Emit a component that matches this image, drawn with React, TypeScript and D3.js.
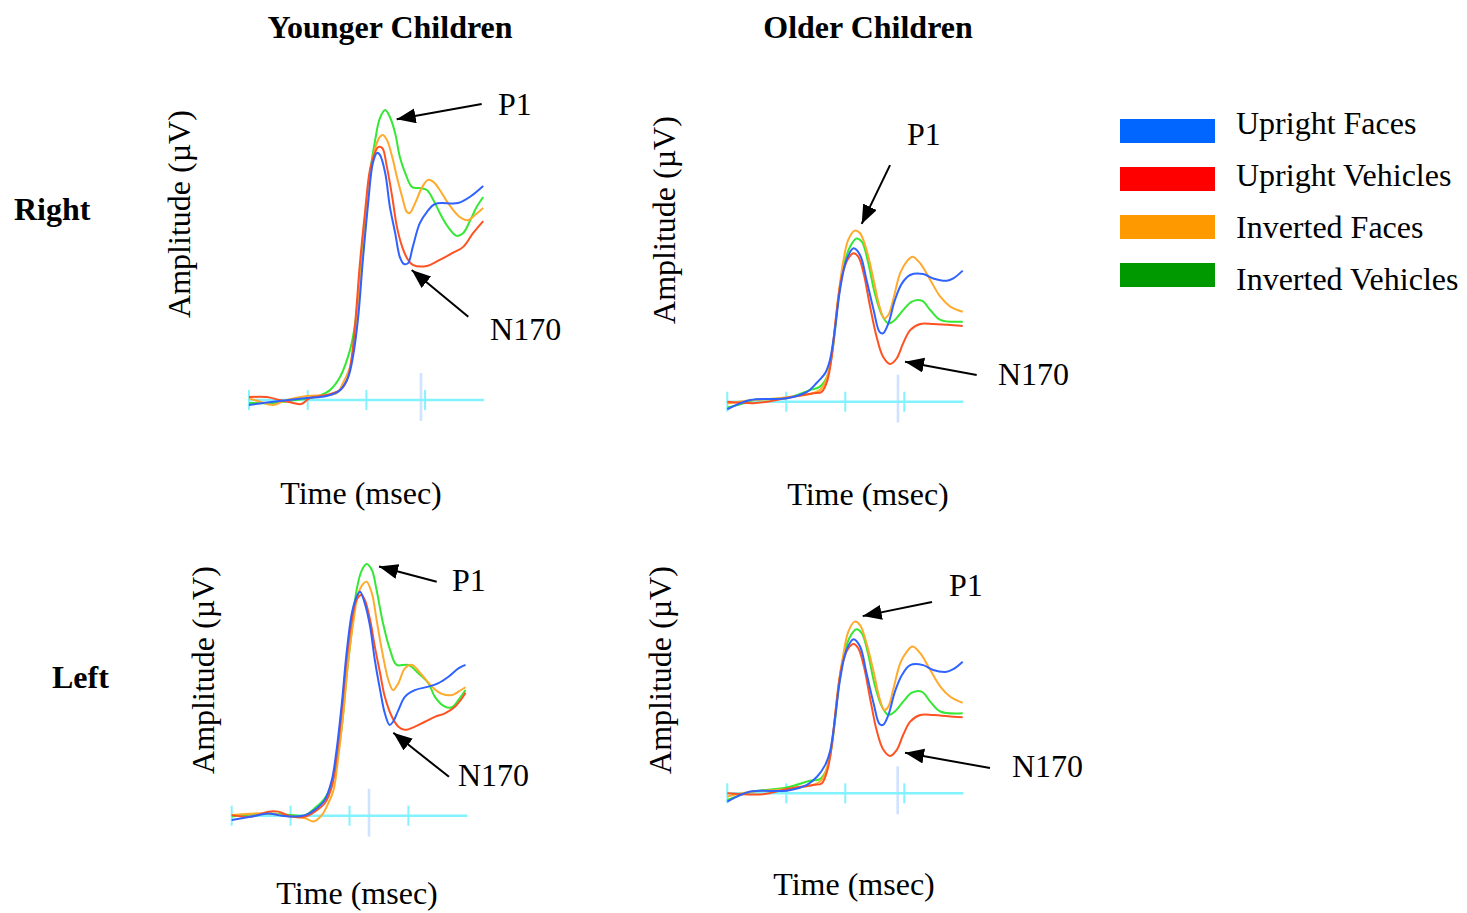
import React from "react";
import * as d3 from "d3";

type Pt = [number, number];

// condition order: upright faces, upright vehicles, inverted faces, inverted vehicles
const conditions = ["Upright Faces", "Upright Vehicles", "Inverted Faces", "Inverted Vehicles"];
const legendColors = ["#0066ff", "#ff0000", "#ff9900", "#009900"];
const traceColors = ["#2f62ff", "#ff5222", "#ffaa2c", "#34e834"];
const drawOrder = [3, 2, 1, 0];
const timeTicks = [-100, 0, 100, 200];

// [time (ms), amplitude (µV)]
const youngerRightUF: Pt[] = [
  [-100, -0.17], [-59, -0.06], [-2, 0.07], [32, 0.14], [55, 0.34], [69, 0.79], [77, 1.48],
  [86, 2.86], [94, 4.83], [103, 6.79], [111, 8.17], [118, 8.52], [123, 8.45], [132, 7.83],
  [140, 6.66], [149, 5.76], [157, 4.93], [164, 4.69], [171, 4.72], [179, 5.28], [191, 6.1],
  [203, 6.48], [217, 6.76], [256, 6.79], [276, 7.0], [299, 7.38],
];
const youngerRightUV: Pt[] = [
  [-100, 0.1], [-70, 0.1], [-48, 0], [-25, -0.1], [-11, -0.14], [4, 0.07], [32, 0.17],
  [55, 0.34], [67, 0.69], [75, 1.48], [81, 2.66], [89, 4.72], [98, 6.55], [106, 7.93],
  [115, 8.55], [120, 8.72], [127, 8.69], [135, 8.03], [144, 7.0], [152, 5.97], [161, 5.28],
  [169, 4.9], [179, 4.66], [203, 4.62], [225, 4.83], [247, 5.07], [265, 5.28], [282, 5.76],
  [299, 6.17],
];
const youngerRightIF: Pt[] = [
  [-100, 0.06], [-81, -0.06], [-59, -0.17], [-36, 0], [-2, 0.14], [32, 0.17], [50, 0.24],
  [60, 0.58], [72, 1.14], [81, 2.17], [89, 4.03], [98, 5.86], [106, 7.69], [115, 8.69],
  [123, 9.07], [128, 9.14], [135, 8.97], [144, 8.38], [152, 7.69], [161, 7.0], [169, 6.48],
  [174, 6.45], [183, 6.79], [195, 7.34], [205, 7.59], [214, 7.52], [225, 7.24], [239, 6.79],
  [259, 6.31], [273, 6.2], [285, 6.38], [299, 6.62],
];
const youngerRightIV: Pt[] = [
  [-100, -0.1], [-60, -0.1], [-20, 0], [0, 0.05], [20, 0.15], [38, 0.34], [55, 0.79],
  [72, 1.72], [81, 2.66], [89, 4.24], [98, 6.31], [106, 7.83], [115, 8.97], [123, 9.72],
  [132, 10.0], [140, 9.76], [149, 9.2], [157, 8.38], [166, 7.83], [178, 7.34], [191, 7.31],
  [203, 7.24], [214, 6.9], [225, 6.45], [239, 5.97], [254, 5.66], [265, 5.76], [277, 6.2],
  [288, 6.66], [299, 7.0],
];

const olderRightUF: Pt[] = [
  [-100, -0.26], [-61, 0.06], [1, 0.12], [35, 0.34], [52, 0.66], [66, 0.99], [74, 1.44],
  [83, 2.59], [91, 3.85], [102, 4.89], [114, 5.29], [125, 5.06], [136, 4.2], [148, 3.16],
  [158, 2.41], [164, 2.36], [173, 2.7], [184, 3.5], [196, 4.08], [210, 4.37], [232, 4.4],
  [249, 4.25], [272, 4.17], [283, 4.25], [299, 4.52],
];
const olderRightUV: Pt[] = [
  [-100, 0], [-56, -0.05], [-39, -0.02], [1, 0.13], [46, 0.29], [60, 0.34], [69, 0.69],
  [77, 1.55], [85, 3.05], [94, 4.31], [105, 4.94], [114, 5.12], [122, 5.0], [131, 4.43],
  [142, 3.28], [153, 2.24], [164, 1.55], [176, 1.3], [187, 1.49], [198, 2.01], [210, 2.47],
  [227, 2.68], [249, 2.68], [283, 2.64], [299, 2.61],
];
const olderRightIF: Pt[] = [
  [-100, -0.06], [-60, 0.05], [1, 0.15], [57, 0.4], [71, 0.98], [80, 2.13], [88, 3.62],
  [97, 4.89], [105, 5.58], [116, 5.9], [125, 5.81], [136, 5.23], [148, 4.2], [158, 3.28],
  [166, 2.88], [173, 2.99], [181, 3.51], [193, 4.43], [204, 4.83], [214, 5.0], [227, 4.77],
  [244, 4.2], [261, 3.62], [278, 3.28], [299, 3.1],
];
const olderRightIV: Pt[] = [
  [-100, -0.2], [-79, -0.1], [-56, 0.05], [1, 0.13], [40, 0.4], [57, 0.52], [69, 0.86],
  [80, 2.0], [88, 3.51], [97, 4.66], [108, 5.34], [119, 5.63], [128, 5.52], [139, 4.77],
  [150, 3.74], [162, 2.99], [173, 2.7], [184, 2.82], [198, 3.16], [213, 3.45], [230, 3.48],
  [244, 3.16], [261, 2.82], [299, 2.76],
];

const youngerLeftUF: Pt[] = [
  [-100, -0.15], [-66, -0.03], [-38, 0.08], [-21, 0.02], [1, -0.03], [25, 0.02], [41, 0.2],
  [58, 0.54], [70, 1.23], [78, 2.26], [87, 3.88], [95, 5.6], [104, 6.98], [112, 7.55],
  [118, 7.72], [126, 7.32], [135, 6.52], [143, 5.37], [152, 4.33], [160, 3.53], [168, 3.13],
  [174, 3.24], [183, 3.64], [194, 4.1], [211, 4.33], [234, 4.45], [251, 4.57], [268, 4.79],
  [285, 5.08], [297, 5.2],
];
const youngerLeftUV: Pt[] = [
  [-100, 0.02], [-66, -0.03], [-38, 0.14], [-21, 0.14], [1, -0.03], [25, -0.03], [41, 0.14],
  [58, 0.43], [70, 1.0], [78, 2.03], [87, 3.64], [95, 5.37], [104, 6.75], [112, 7.44],
  [120, 7.61], [126, 7.44], [135, 6.75], [143, 5.83], [152, 4.91], [160, 4.1], [172, 3.41],
  [183, 3.07], [194, 2.96], [211, 3.07], [228, 3.24], [245, 3.41], [262, 3.53], [279, 3.76],
  [291, 4.05], [297, 4.24],
];
const youngerLeftIF: Pt[] = [
  [-100, 0.02], [-38, 0.08], [1, -0.03], [25, -0.09], [39, -0.2], [53, 0.02], [64, 0.43],
  [73, 0.89], [81, 2.03], [90, 3.64], [98, 5.37], [107, 6.75], [115, 7.67], [124, 8.01],
  [129, 8.07], [138, 7.67], [146, 6.75], [155, 5.71], [166, 4.68], [174, 4.33], [183, 4.57],
  [194, 5.08], [206, 5.2], [223, 4.85], [240, 4.45], [257, 4.2], [274, 4.16], [285, 4.28],
  [297, 4.43],
];
const youngerLeftIV: Pt[] = [
  [-100, -0.03], [-38, 0.08], [1, 0.02], [25, 0.02], [41, 0.26], [58, 0.6], [70, 1.12],
  [78, 1.81], [87, 3.07], [95, 4.79], [104, 6.4], [112, 7.78], [121, 8.47], [129, 8.68],
  [138, 8.47], [146, 7.78], [157, 6.63], [169, 5.71], [180, 5.2], [200, 5.2], [217, 4.91],
  [234, 4.57], [245, 4.1], [262, 3.76], [274, 3.74], [285, 3.99], [297, 4.33],
];

const olderLeftUF: Pt[] = [
  [-100, -0.29], [-61, 0.06], [1, 0.09], [35, 0.29], [52, 0.57], [66, 0.98], [74, 1.43],
  [83, 2.64], [91, 3.91], [102, 4.94], [114, 5.31], [125, 5.06], [136, 4.14], [148, 3.1],
  [158, 2.39], [164, 2.36], [173, 2.7], [184, 3.5], [196, 4.08], [210, 4.42], [232, 4.42],
  [249, 4.25], [272, 4.19], [283, 4.28], [299, 4.54],
];
const olderLeftUV: Pt[] = [
  [-100, 0], [-39, -0.03], [1, 0.15], [46, 0.29], [60, 0.34], [69, 0.75], [77, 1.61],
  [85, 3.1], [94, 4.37], [105, 5.0], [114, 5.15], [122, 5.0], [131, 4.42], [142, 3.28],
  [153, 2.18], [164, 1.52], [176, 1.29], [187, 1.49], [198, 2.01], [210, 2.47], [227, 2.7],
  [249, 2.7], [283, 2.64], [299, 2.62],
];
const olderLeftIF: Pt[] = [
  [-100, -0.11], [-60, 0.05], [1, 0.15], [57, 0.4], [71, 1.03], [80, 2.18], [88, 3.68],
  [97, 4.83], [105, 5.57], [116, 5.92], [125, 5.8], [136, 5.17], [148, 4.19], [158, 3.28],
  [166, 2.87], [173, 2.99], [181, 3.56], [193, 4.48], [204, 4.88], [214, 5.06], [227, 4.83],
  [244, 4.25], [261, 3.68], [278, 3.33], [299, 3.12],
];
const olderLeftIV: Pt[] = [
  [-100, -0.23], [-56, 0.06], [1, 0.2], [40, 0.43], [57, 0.49], [69, 0.86], [80, 2.07],
  [88, 3.56], [97, 4.71], [108, 5.4], [119, 5.66], [128, 5.52], [139, 4.77], [150, 3.73],
  [162, 2.99], [173, 2.7], [184, 2.82], [198, 3.16], [213, 3.47], [230, 3.5], [244, 3.16],
  [261, 2.82], [299, 2.76],
];

// annotation anchors, in [time, amplitude]: arrow tip, arrow tail, label
const panels = [
  {
    x0: 249, y0: 400, tickStep: 58.7,
    series: [youngerRightUF, youngerRightUV, youngerRightIF, youngerRightIV],
    cursor: 193,
    p1: { tip: [151.6, 9.68], tail: [296.4, 10.21], label: [324, 9.83] },
    n170: { tip: [177.2, 4.48], tail: [273.6, 2.87], label: [310.6, 2.07] },
    amp: [190, 214], time: [361, 504],
  },
  {
    x0: 727.3, y0: 401.7, tickStep: 59,
    series: [olderRightUF, olderRightUV, olderRightIF, olderRightIV],
    cursor: 189.3,
    p1: { tip: [127.8, 6.13], tail: [175.8, 8.16], label: [204.6, 8.85] },
    n170: { tip: [201.2, 1.38], tail: [322.7, 0.92], label: [358.8, 0.58] },
    amp: [675, 220], time: [868, 505],
  },
  {
    x0: 231.7, y0: 815.7, tickStep: 58.9,
    series: [youngerLeftUF, youngerLeftUV, youngerLeftIF, youngerLeftIV],
    cursor: 133.1,
    p1: { tip: [150.1, 8.59], tail: [248, 8.07], label: [274, 7.75] },
    n170: { tip: [174.4, 2.86], tail: [268.9, 1.34], label: [284.2, 1.02] },
    amp: [214, 670], time: [357, 904],
  },
  {
    x0: 727.3, y0: 793.3, tickStep: 59,
    series: [olderLeftUF, olderLeftUV, olderLeftIF, olderLeftIV],
    cursor: 188.8,
    p1: { tip: [129.5, 6.11], tail: [246.9, 6.6], label: [275.8, 6.8] },
    n170: { tip: [201.2, 1.4], tail: [345.3, 0.87], label: [382.5, 0.56] },
    amp: [671, 670], time: [854, 895],
  },
];

const FONT = "'Liberation Serif', 'Times New Roman', serif";

function Panel({ p }: { p: (typeof panels)[number] }) {
  const x = d3.scaleLinear().domain([-100, 300]).range([p.x0, p.x0 + 4 * p.tickStep]);
  const y = d3.scaleLinear().domain([0, 1]).range([p.y0, p.y0 - 29]);
  const line = d3
    .line<Pt>()
    .x((d) => x(d[0]))
    .y((d) => y(d[1]))
    .curve(d3.curveCatmullRom.alpha(0.5));

  const arrow = (a: { tip: number[]; tail: number[]; label: number[] }, text: string) => (
    <g>
      <line
        x1={x(a.tail[0])}
        y1={y(a.tail[1])}
        x2={x(a.tip[0])}
        y2={y(a.tip[1])}
        stroke="#000"
        strokeWidth={2}
        markerEnd="url(#arrowHead)"
      />
      <text x={x(a.label[0])} y={y(a.label[1])} fontSize={32} fontFamily={FONT}>
        {text}
      </text>
    </g>
  );

  return (
    <g>
      <line
        x1={x(p.cursor)}
        x2={x(p.cursor)}
        y1={y(0.93)}
        y2={y(-0.72)}
        stroke="#cfe2ff"
        strokeWidth={2.6}
      />
      <line x1={x(-100)} x2={x(300)} y1={y(0)} y2={y(0)} stroke="#82f2ff" strokeWidth={2.6} />
      {timeTicks.map((t) => (
        <line key={t} x1={x(t)} x2={x(t)} y1={y(0) - 10} y2={y(0) + 10} stroke="#82f2ff" strokeWidth={2} />
      ))}
      {drawOrder.map((i) => (
        <path key={i} d={line(p.series[i]) || ""} fill="none" stroke={traceColors[i]} strokeWidth={2} />
      ))}
      {arrow(p.p1, "P1")}
      {arrow(p.n170, "N170")}
      <text
        x={p.amp[0]}
        y={p.amp[1]}
        transform={`rotate(-90, ${p.amp[0]}, ${p.amp[1]})`}
        textAnchor="middle"
        fontSize={32}
        fontFamily={FONT}
      >
        Amplitude (µV)
      </text>
      <text x={p.time[0]} y={p.time[1]} textAnchor="middle" fontSize={32} fontFamily={FONT}>
        Time (msec)
      </text>
    </g>
  );
}

export default function App() {
  return (
    <svg
      width={1467}
      height={913}
      style={{ position: "absolute", left: 0, top: 0, background: "#fff" }}
    >
      <defs>
        <marker
          id="arrowHead"
          markerUnits="userSpaceOnUse"
          markerWidth={20}
          markerHeight={16}
          refX={19}
          refY={7.5}
          orient="auto"
        >
          <path d="M0,0 L19,7.5 L0,15 Z" fill="#000" />
        </marker>
      </defs>
      <rect width={1467} height={913} fill="#fff" />
      <text x={390} y={38} textAnchor="middle" fontSize={32} fontWeight="bold" fontFamily={FONT}>
        Younger Children
      </text>
      <text x={868} y={38} textAnchor="middle" fontSize={32} fontWeight="bold" fontFamily={FONT}>
        Older Children
      </text>
      <text x={14} y={220} fontSize={32} fontWeight="bold" fontFamily={FONT}>
        Right
      </text>
      <text x={52} y={688} fontSize={32} fontWeight="bold" fontFamily={FONT}>
        Left
      </text>
      {panels.map((p, i) => (
        <Panel key={i} p={p} />
      ))}
      {conditions.map((c, i) => (
        <g key={c}>
          <rect x={1120} y={119 + i * 48} width={95} height={24} fill={legendColors[i]} />
          <text x={1236} y={134 + i * 52} fontSize={32} fontFamily={FONT}>
            {c}
          </text>
        </g>
      ))}
    </svg>
  );
}
